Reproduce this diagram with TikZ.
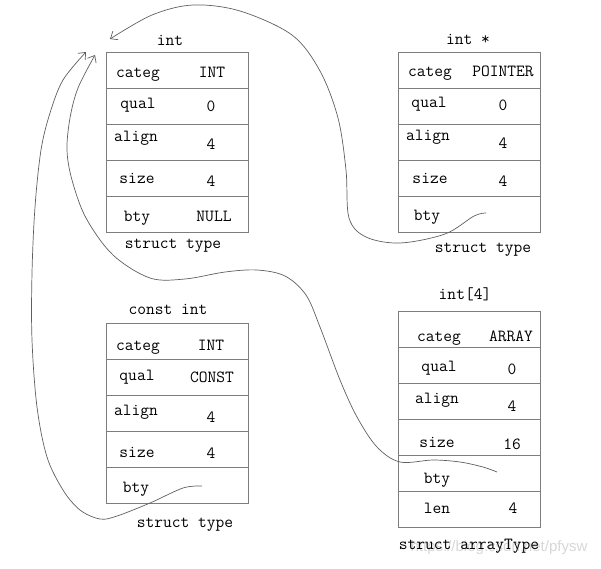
\documentclass[tikz,border=0pt]{standalone}
\usepackage{fontspec}
\newfontfamily\wmfont{Liberation Sans}
\usetikzlibrary{arrows.meta}
\definecolor{boxgray}{RGB}{125,125,125}
\definecolor{linegray}{RGB}{95,95,95}
\definecolor{wmgray}{RGB}{215,215,215}
\begin{document}
\begin{tikzpicture}[x=1pt,y=-1pt,
  cell/.style={draw=boxgray, line width=0.8pt, minimum width=142pt, minimum height=36pt, inner sep=0pt, outer sep=0pt, anchor=north west},
  lbl/.style={font=\ttfamily\fontsize{17}{17}\selectfont, anchor=mid, inner sep=0pt, yshift=-2pt},
  conn/.style={draw=linegray, line width=0.7pt, -{Straight Barb[length=6pt,width=10pt]}},
  wm/.style={font=\wmfont\fontsize{15}{15}\selectfont, text=wmgray, anchor=mid, inner sep=0pt}
]
\useasboundingbox (0,0) rectangle (601,568);

% ---------- box 1 : int ----------
\node[cell] (a1) at (106,52) {};
\node[cell] (a2) at (a1.south west) {};
\node[cell] (a3) at (a2.south west) {};
\node[cell] (a4) at (a3.south west) {};
\node[cell] (a5) at (a4.south west) {};
\node[lbl] (at) at (170,41) {int};
\node[lbl] (as) at (173,244) {struct type};
\node[lbl] (a1l) at (138,73) {categ};
\node[lbl] (a1v) at (212,73) {INT};
\node[lbl] (a2l) at (138,104) {qual};
\node[lbl] (a2v) at (211,107) {0};
\node[lbl] (a3l) at (136,137) {align};
\node[lbl] (a3v) at (211,145) {4};
\node[lbl] (a4l) at (137,179) {size};
\node[lbl] (a4v) at (211,182) {4};
\node[lbl] (a5l) at (137,217) {bty};
\node[lbl] (a5v) at (214,217) {NULL};

% ---------- box 2 : int * ----------
\node[cell] (b1) at (398,52) {};
\node[cell] (b2) at (b1.south west) {};
\node[cell] (b3) at (b2.south west) {};
\node[cell] (b4) at (b3.south west) {};
\node[cell] (b5) at (b4.south west) {};
\node[lbl] (bt) at (468,40) {int *};
\node[lbl] (bs) at (483,248) {struct type};
\node[lbl] (b1l) at (430,72) {categ};
\node[lbl] (b1v) at (503,72) {POINTER};
\node[lbl] (b2l) at (429,103) {qual};
\node[lbl] (b2v) at (503,106) {0};
\node[lbl] (b3l) at (428,136) {align};
\node[lbl] (b3v) at (503,144) {4};
\node[lbl] (b4l) at (430,179) {size};
\node[lbl] (b4v) at (503,182) {4};
\node[lbl] (b5l) at (427,216) {bty};

% ---------- box 3 : const int ----------
\node[cell] (c1) at (106,323) {};
\node[cell] (c2) at (c1.south west) {};
\node[cell] (c3) at (c2.south west) {};
\node[cell] (c4) at (c3.south west) {};
\node[cell] (c5) at (c4.south west) {};
\node[lbl] (ct) at (168,310) {const int};
\node[lbl] (cs) at (185,523) {struct type};
\node[lbl] (c1l) at (138,346) {categ};
\node[lbl] (c1v) at (211,346) {INT};
\node[lbl] (c2l) at (137,376) {qual};
\node[lbl] (c2v) at (212,378) {CONST};
\node[lbl] (c3l) at (136,411) {align};
\node[lbl] (c3v) at (211,418) {4};
\node[lbl] (c4l) at (137,453) {size};
\node[lbl] (c4v) at (211,454) {4};
\node[lbl] (c5l) at (136,488) {bty};

% ---------- box 4 : int[4] ----------
\node[cell] (d1) at (398,311) {};
\node[cell] (d2) at (d1.south west) {};
\node[cell] (d3) at (d2.south west) {};
\node[cell] (d4) at (d3.south west) {};
\node[cell] (d5) at (d4.south west) {};
\node[cell] (d6) at (d5.south west) {};
\node[lbl] (dt) at (465,295) {int[4]};
\node[wm] (wmk) at (499,549) {https://blog.csdn.net/pfysw};
\node[lbl] (ds) at (469,545) {struct arrayType};
\node[lbl] (d1l) at (439,337) {categ};
\node[lbl] (d1v) at (511,337) {ARRAY};
\node[lbl] (d2l) at (439,367) {qual};
\node[lbl] (d2v) at (512,370) {0};
\node[lbl] (d3l) at (437,399) {align};
\node[lbl] (d3v) at (512,407) {4};
\node[lbl] (d4l) at (437,443) {size};
\node[lbl] (d4v) at (512,445) {16};
\node[lbl] (d5l) at (437,479) {bty};
\node[lbl] (d6l) at (437,509) {len};
\node[lbl] (d6v) at (513,509) {4};

% ---------- connectors ----------
\coordinate (s1) at (486,213);
\coordinate (t1) at (110,39);
\coordinate (s2) at (497,472);
\coordinate (t2) at (95,55);
\coordinate (s3) at (202,486);
\coordinate (t3) at (86,52);

\draw[conn] plot[smooth, tension=0.55] coordinates {(s1) (474,216) (445,234) (400,243) (366,237) (349,218) (346,170) (338,118) (320,71) (292,35) (240,11) (193,5) (152,15) (t1)};
\draw[conn] plot[smooth, tension=0.55] coordinates {(s2) (483,467) (460,462) (433,460) (400,462) (377,447) (357,417) (340,380) (320,327) (306,295) (285,276) (257,270) (225,272) (185,279) (150,278) (113,255) (86,218) (72,180) (67,150) (70,118) (78,88) (t2)};
\draw[conn] plot[smooth, tension=0.55] coordinates {(s3) (183,488) (150,503) (117,516) (100,519) (80,510) (63,490) (47,457) (37,407) (32,340) (32,273) (35,207) (41,150) (50,113) (63,80) (t3)};
\end{tikzpicture}
\end{document}
